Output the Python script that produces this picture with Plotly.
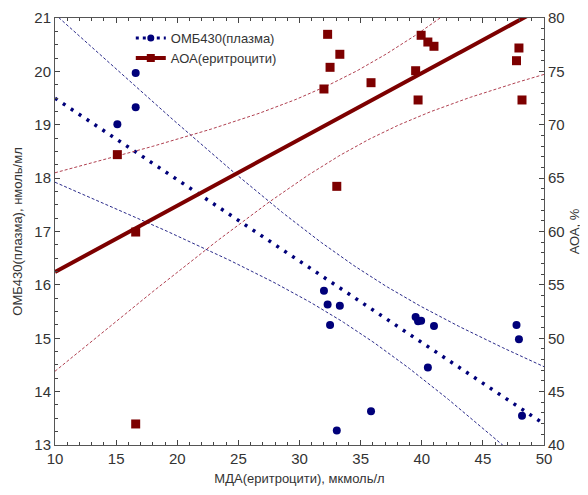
import numpy as np
import plotly.graph_objects as go

# Shared x values: МДА(еритроцити), мкмоль/л
mda = [15.1, 16.6, 16.6, 32.0, 32.3, 32.5, 33.05, 33.3, 35.85,
       39.5, 39.7, 39.95, 40.5, 41.0, 47.75, 47.95, 48.2]
# ОМБ430(плазма), нмоль/мл (left axis)
omb = [19.01, 19.97, 19.33, 15.89, 15.63, 15.25, 13.27, 15.61, 13.63,
       15.40, 15.32, 15.33, 14.45, 15.23, 15.25, 14.98, 13.55]
# АОА(еритроцити), % (right axis)
aoa = [67.2, 59.95, 41.97, 73.35, 78.47, 75.38, 64.23, 76.6, 73.94,
       75.06, 72.32, 78.38, 77.75, 77.35, 76.0, 77.19, 72.32]

x_ticks = [10, 15, 20, 25, 30, 35, 40, 45, 50]
left_ticks = [13, 14, 15, 16, 17, 18, 19, 20, 21]
right_ticks = [40, 45, 50, 55, 60, 65, 70, 75, 80]

BLUE = "#00007a"
RED = "#7d0000"
T_CRIT = 2.131  # t(0.975, df=15)


def fit_with_ci(x, y, grid):
    x = np.asarray(x, float)
    y = np.asarray(y, float)
    n = len(x)
    b, a = np.polyfit(x, y, 1)
    resid = y - (a + b * x)
    s = np.sqrt(np.sum(resid ** 2) / (n - 2))
    sxx = np.sum((x - x.mean()) ** 2)
    yhat = a + b * grid
    half = T_CRIT * s * np.sqrt(1.0 / n + (grid - x.mean()) ** 2 / sxx)
    return yhat, yhat - half, yhat + half


grid = np.linspace(x_ticks[0], x_ticks[-1], 201)
b_fit, b_lo, b_hi = fit_with_ci(mda, omb, grid)
r_fit, r_lo, r_hi = fit_with_ci(mda, aoa, grid)

fig = go.Figure()

# confidence bands
for arr in (b_lo, b_hi):
    fig.add_trace(go.Scatter(x=grid, y=arr, mode="lines", showlegend=False,
                             hoverinfo="skip",
                             line=dict(color="#2a2a8a", width=1, dash="3px,2px")))
for arr in (r_lo, r_hi):
    fig.add_trace(go.Scatter(x=grid, y=arr, mode="lines", showlegend=False,
                             hoverinfo="skip", yaxis="y2",
                             line=dict(color="#b04050", width=1, dash="3px,2px")))

# regression lines
fig.add_trace(go.Scatter(x=grid, y=b_fit, mode="lines", showlegend=False,
                         line=dict(color=BLUE, width=3.5, dash="3px,6.5px")))
fig.add_trace(go.Scatter(x=grid, y=r_fit, mode="lines", showlegend=False,
                         yaxis="y2", line=dict(color=RED, width=4)))

# points
fig.add_trace(go.Scatter(x=mda, y=omb, mode="markers", showlegend=False,
                         marker=dict(color=BLUE, size=8, symbol="circle")))
fig.add_trace(go.Scatter(x=mda, y=aoa, mode="markers", showlegend=False,
                         yaxis="y2",
                         marker=dict(color=RED, size=9, symbol="square")))

# legend entries
fig.add_trace(go.Scatter(x=[None], y=[None], mode="lines+markers",
                         name="ОМБ430(плазма)",
                         line=dict(color=BLUE, width=3, dash="3px,4px"),
                         marker=dict(color=BLUE, size=7, symbol="circle")))
fig.add_trace(go.Scatter(x=[None], y=[None], mode="lines+markers",
                         name="АОА(еритроцити)", yaxis="y2",
                         line=dict(color=RED, width=4),
                         marker=dict(color=RED, size=8, symbol="square")))

axis_common = dict(
    showgrid=False, zeroline=False, showline=True, linecolor="#555555",
    linewidth=1, ticks="inside", ticklen=5, tickcolor="#444444",
    automargin=False,
    tickfont=dict(size=15, color="#333333", family="Liberation Sans, Arial"),
)

# the page body has an 8px default margin, so the figure is sized to fit
fig.update_layout(
    width=580, height=487,
    margin=dict(l=47, r=44, t=10, b=50),
    paper_bgcolor="white", plot_bgcolor="white",
    font=dict(family="Liberation Sans, Arial", color="#333333"),
    xaxis=dict(range=[10, 50], tickvals=x_ticks, mirror="ticks",
               title=dict(text="МДА(еритроцити), мкмоль/л",
                          font=dict(size=13, color="#333333"), standoff=7),
               minor=dict(dtick=1, ticks="inside", ticklen=3,
                          tickcolor="#444444"),
               **axis_common),
    yaxis=dict(range=[13, 21], tickvals=left_ticks,
               title=dict(text="ОМБ430(плазма), нмоль/мл",
                          font=dict(size=13, color="#333333"), standoff=8),
               minor=dict(dtick=0.25, ticks="inside", ticklen=3,
                          tickcolor="#444444"),
               **axis_common),
    yaxis2=dict(range=[40, 80], tickvals=right_ticks, overlaying="y",
                side="right",
                title=dict(text="АОА, %",
                           font=dict(size=13, color="#333333"), standoff=6),
                minor=dict(dtick=1, ticks="inside", ticklen=3,
                           tickcolor="#444444"),
                **axis_common),
    legend=dict(x=0.155, y=0.988, xanchor="left", yanchor="top",
                bgcolor="rgba(0,0,0,0)", tracegroupgap=0,
                font=dict(size=13, color="#333333"), itemwidth=30),
)

fig.write_html("out.html")
